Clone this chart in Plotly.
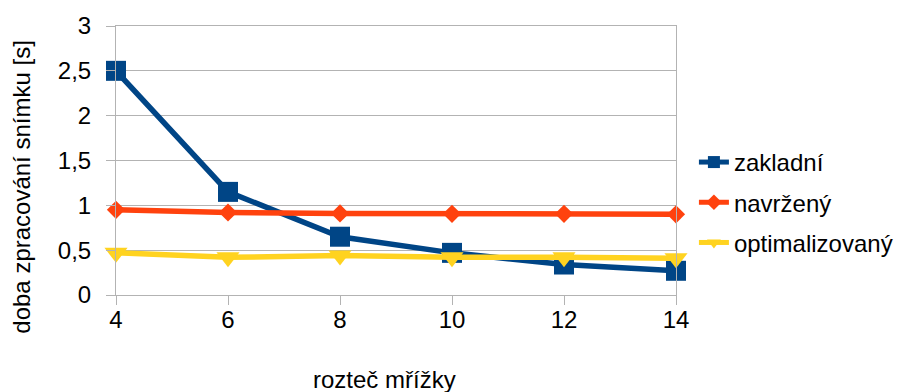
import plotly.graph_objects as go

x_vals = [4, 6, 8, 10, 12, 14]
zakladni = [2.5, 1.15, 0.65, 0.47, 0.34, 0.27]
navrzeny = [0.95, 0.92, 0.91, 0.905, 0.905, 0.90]
optimalizovany = [0.47, 0.42, 0.44, 0.42, 0.42, 0.41]
y_ticks = [0, 0.5, 1, 1.5, 2, 2.5, 3]
y_tick_labels = ["0", "0,5", "1", "1,5", "2", "2,5", "3"]
x_title = "rozteč mřížky"
y_title = "doba zpracování snímku [s]"

FONT = "Liberation Sans, Arial, sans-serif"
FS = 24

fig = go.Figure()
series = [
    ("zakladní", zakladni, "#004586", "square", 20),
    ("navržený", navrzeny, "#ff420e", "diamond", 14),
    ("optimalizovaný", optimalizovany, "#ffd320", "triangle-down", 20),
]
for i, (name, vals, col, sym, sz) in enumerate(series):
    fig.add_trace(go.Scatter(
        x=x_vals, y=vals, name=name, mode="lines+markers",
        line=dict(color=col, width=5.5),
        marker=dict(symbol=sym, size=sz, color=col, line=dict(width=0)),
        legendgroup=f"g{i}",
        cliponaxis=False,
    ))

fig.update_layout(
    width=910, height=392,
    margin=dict(l=116, r=232, t=22, b=97),
    paper_bgcolor="white", plot_bgcolor="white",
    font=dict(family=FONT, size=FS, color="black"),
    showlegend=True,
    legend=dict(
        x=1.032, xanchor="left", xref="paper", y=0.344, yanchor="middle",
        font=dict(family=FONT, size=FS, color="black"),
        tracegroupgap=6, itemwidth=30, itemsizing="constant",
        bgcolor="rgba(0,0,0,0)",
    ),
    xaxis=dict(
        range=[4, 14], tickvals=x_vals, ticktext=[str(v) for v in x_vals],
        showgrid=False, zeroline=False,
        showline=True, linecolor="#b3b3b3", linewidth=1, mirror=True,
        ticks="outside", ticklen=9, tickcolor="#b3b3b3",
        ticklabelstandoff=-6,
        tickfont=dict(size=FS, family=FONT, color="black"),
    ),
    yaxis=dict(
        range=[0, 3], tickvals=y_ticks, ticktext=y_tick_labels,
        showgrid=True, gridcolor="#b3b3b3", gridwidth=1, zeroline=False,
        showline=True, linecolor="#b3b3b3", linewidth=1, mirror=True,
        ticks="outside", ticklen=9, tickcolor="#b3b3b3",
        ticklabelstandoff=10,
        tickfont=dict(size=FS, family=FONT, color="black"),
    ),
    annotations=[
        dict(text=x_title, xref="paper", yref="paper", x=0.48, y=0,
             yshift=-84, xanchor="center", yanchor="middle", showarrow=False,
             font=dict(family=FONT, size=FS, color="black")),
        dict(text=y_title, xref="paper", yref="paper", x=0, xshift=-94,
             y=0.399, xanchor="center", yanchor="middle", textangle=-90,
             showarrow=False, font=dict(family=FONT, size=FS, color="black")),
    ],
)

fig.write_html("out.html", config={"displayModeBar": False},
               post_script="document.body.style.margin='0';")
